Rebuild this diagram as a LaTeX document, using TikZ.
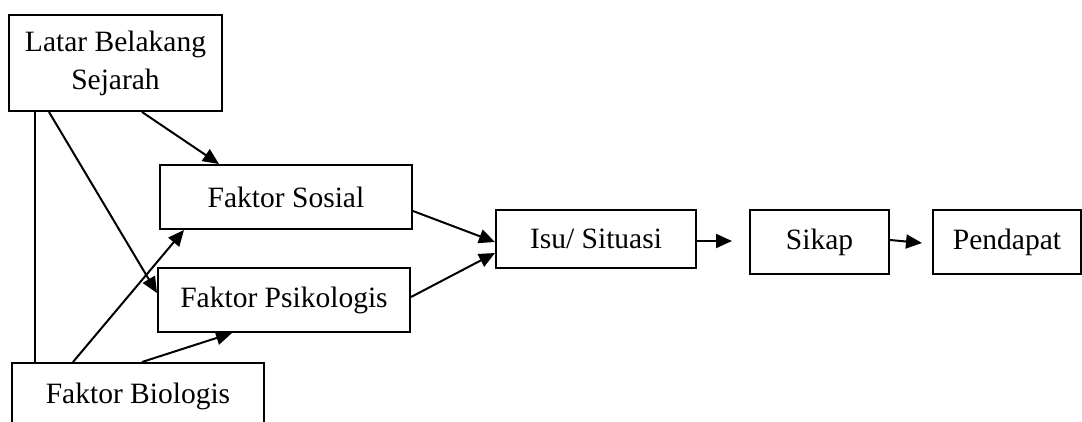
\documentclass[tikz,border=0pt]{standalone}
\usepackage{fontspec}
\setmainfont{Liberation Serif}
\usetikzlibrary{arrows.meta}
\begin{document}
\begin{tikzpicture}[x=1pt,y=-1pt,
  box/.style={draw,line width=2pt,rectangle,inner sep=0pt,align=center,
    font=\fontsize{29.5}{38}\selectfont},
  conn/.style={line width=2pt},
  arr/.style={line width=2pt,-{Triangle[length=16pt,width=14pt]}}]
\useasboundingbox (0,0) rectangle (1082,421);
\node[box,minimum width=213pt,minimum height=96pt] (latar) at (115.5,63) {Latar Belakang\\Sejarah};
\node[box,minimum width=252pt,minimum height=64pt] (sosial) at (286,197) {Faktor Sosial};
\node[box,minimum width=252pt,minimum height=64pt] (psiko) at (284,300) {Faktor Psikologis};
\node[box,minimum width=252pt,minimum height=66pt] (bio) at (138,396) {Faktor Biologis};
\node[box,minimum width=200pt,minimum height=58pt] (isu) at (596,239) {Isu/ Situasi};
\node[box,minimum width=139pt,minimum height=64pt] (sikap) at (819.5,242) {Sikap};
\node[box,minimum width=148pt,minimum height=64pt] (pend) at (1007,242) {Pendapat};

\draw[conn] ([xshift=27pt]latar.south west) -- ([xshift=24pt]bio.north west);
\draw[arr] ([xshift=41pt]latar.south west) -- ([yshift=7pt]psiko.west);
\draw[arr] ([xshift=134pt]latar.south west) -- ([xshift=60pt]sosial.north west);
\draw[arr] ([xshift=62pt]bio.north west) -- ([xshift=25pt]sosial.south west);
\draw[arr] ([xshift=131pt]bio.north west) -- ([xshift=75pt]psiko.south west);
\draw[arr] ([yshift=-14pt]sosial.east) -- ([yshift=-3pt]isu.west);
\draw[arr] ([yshift=3pt]psiko.east) -- ([yshift=-14pt]isu.west);
\draw[arr] ([yshift=-2pt]isu.east) -- ([xshift=-17pt,yshift=1pt]sikap.west);
\draw[arr] ([yshift=2pt]sikap.east) -- ([xshift=-10pt,yshift=-1pt]pend.west);
\end{tikzpicture}
\end{document}
